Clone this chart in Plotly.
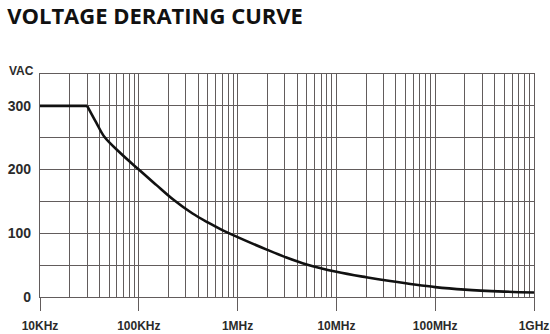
import plotly.graph_objects as go

# Derating curve: rated AC voltage against frequency.
# Full rating holds up to the knee, then the rating rolls off.
flat_hz = [1e4, 3e4]
flat_vac = [300, 300]

rolloff_hz = [3e4, 3.7e4, 4.5e4, 6.5e4, 1e5, 1.5e5, 2.23e5, 3.5e5,
              5e5, 7e5, 1e6, 2e6, 3e6, 5e6, 1e7, 2e7, 3.5e7, 1e8, 2e8, 5e8, 1e9]
rolloff_vac = [300, 274, 251, 226, 200, 176, 153, 131,
               117, 105, 94, 74, 63, 51, 39.5, 31, 25, 15.5, 11.5, 8.5, 7]

decade_vals = [1e4, 1e5, 1e6, 1e7, 1e8, 1e9]
decade_text = ["10KHz", "100KHz", "1MHz", "10MHz", "100MHz", "1GHz"]
minor_freqs = [m * 10 ** e for e in range(4, 9) for m in range(2, 10)]

volt_vals = [0, 100, 200, 300]
volt_text = ["0", "100", "200", "300"]
volt_minor = [50, 150, 250]
unit_label = "VAC"

GRID = "#625c5c"
TEXT = "#2b2b2b"
CURVE = "#111111"

fig = go.Figure()
fig.add_trace(go.Scatter(
    x=flat_hz, y=flat_vac, mode="lines",
    line=dict(color=CURVE, width=2.6), showlegend=False,
))
fig.add_trace(go.Scatter(
    x=rolloff_hz, y=rolloff_vac, mode="lines",
    line=dict(color=CURVE, width=2.6, shape="spline", smoothing=1.0),
    showlegend=False,
))

fig.update_layout(
    width=550, height=334,
    margin=dict(l=40, r=16, t=74, b=37),
    paper_bgcolor="white", plot_bgcolor="white",
    title=dict(text="<b>VOLTAGE DERATING CURVE</b>", x=0.013, xanchor="left",
               y=0.95, yanchor="middle",
               font=dict(family="Open Sans", size=22, color="#111111")),
    font=dict(family="Liberation Sans", color=TEXT),
)

fig.update_xaxes(
    type="log", range=[4, 9], automargin=False,
    tickmode="array", tickvals=decade_vals, ticktext=decade_text,
    ticks="outside", ticklen=13, tickwidth=1.3, tickcolor=GRID,
    ticklabelstandoff=4,
    tickfont=dict(family="Liberation Sans", size=12, color=TEXT, weight="bold"),
    showgrid=True, gridcolor=GRID, gridwidth=1.3,
    showline=True, mirror=True, linecolor=GRID, linewidth=1.3,
    minor=dict(tickmode="array", tickvals=minor_freqs, showgrid=True,
               gridcolor=GRID, gridwidth=1.3, ticks=""),
    zeroline=False,
)

fig.update_yaxes(
    range=[0, 350], automargin=False,
    tickmode="array", tickvals=volt_vals, ticktext=volt_text,
    ticks="", ticklabelstandoff=5,
    tickfont=dict(family="Liberation Sans", size=14, color=TEXT, weight="bold"),
    showgrid=True, gridcolor=GRID, gridwidth=1.3,
    showline=True, mirror=True, linecolor=GRID, linewidth=1.3,
    minor=dict(tickmode="array", tickvals=volt_minor, showgrid=True,
               gridcolor=GRID, gridwidth=1.3, ticks=""),
    zeroline=False,
)

fig.add_annotation(
    text=unit_label, xref="paper", yref="y", x=0, y=350,
    xanchor="right", yanchor="middle", xshift=-4, yshift=3, showarrow=False,
    font=dict(family="Liberation Sans", size=12, color=TEXT, weight="bold"),
)

fig.write_html("out.html")
